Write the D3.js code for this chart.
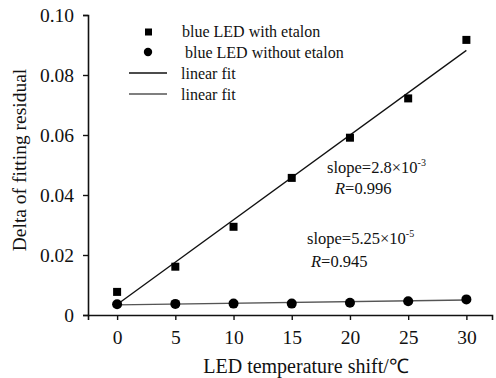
<!DOCTYPE html>
<html>
<head>
<meta charset="utf-8">
<script src="https://cdn.jsdelivr.net/npm/d3@7"></script>
<style>
  body { margin: 0; background: #fff; }
  svg text { font-family: "Liberation Serif", "Times New Roman", serif; fill: #111; }
</style>
</head>
<body>
<svg id="chart" width="496" height="378"></svg>
<script>
// temperature shift (degC)
const temps = [0, 5, 10, 15, 20, 25, 30];
// delta of fitting residual
const withEtalon = [0.0077, 0.0161, 0.0294, 0.0457, 0.0591, 0.0722, 0.0917];
const withoutEtalon = [0.0036, 0.0037, 0.0038, 0.0038, 0.0041, 0.0046, 0.0052];
// fit line end points at x = 0 and x = 30
const fitX = [0, 30];
const fitWith = [0.0035, 0.0882];
const fitWithout = [0.0034, 0.0050];
const xTicks = [0, 5, 10, 15, 20, 25, 30];
const yTicks = [0, 0.02, 0.04, 0.06, 0.08, 0.10];

let svg = d3.select('#chart');

let x = d3.scaleLinear().domain([-2.5, 32.2]).range([88, 492]);
let y = d3.scaleLinear().domain([0, 0.10]).range([315, 15]);

// axes
let xAxis = svg.append('g')
    .attr('transform', 'translate(0,315)')
    .call(d3.axisBottom(x).tickValues(xTicks).tickSizeOuter(0).tickSize(5).tickPadding(10));
let yAxis = svg.append('g')
    .attr('transform', 'translate(88,0)')
    .call(d3.axisLeft(y).tickValues(yTicks).tickSizeOuter(0).tickSize(5).tickPadding(9)
        .tickFormat(d => d === 0 ? '0' : d3.format('.2f')(d)));

[xAxis, yAxis].forEach(g => {
    g.select('.domain').attr('stroke', '#111').attr('stroke-width', 1.6);
    g.selectAll('.tick line').attr('stroke', '#111').attr('stroke-width', 1.4);
    g.selectAll('.tick text').style('font-family', '"Liberation Serif", serif')
        .style('font-size', '19.5px').attr('fill', '#111');
});

// axis titles
svg.append('text')
    .attr('x', 306).attr('y', 373)
    .attr('text-anchor', 'middle')
    .style('font-size', '20px')
    .text('LED temperature shift/℃');

svg.append('text')
    .attr('transform', 'translate(26,160) rotate(-90)')
    .attr('text-anchor', 'middle')
    .style('font-size', '19.5px')
    .text('Delta of fitting residual');

// fit lines
let line = d3.line().x(d => x(d[0])).y(d => y(d[1]));
svg.append('path')
    .datum(fitX.map((t, i) => [t, fitWith[i]]))
    .attr('d', line).attr('fill', 'none').attr('stroke', '#111').attr('stroke-width', 1.3);
svg.append('path')
    .datum(fitX.map((t, i) => [t, fitWithout[i]]))
    .attr('d', line).attr('fill', 'none').attr('stroke', '#555').attr('stroke-width', 1.3);

// markers
svg.selectAll('.sq')
    .data(temps.map((t, i) => [t, withEtalon[i]]))
    .enter().append('rect')
    .attr('x', d => x(d[0]) - 4).attr('y', d => y(d[1]) - 4)
    .attr('width', 8).attr('height', 8)
    .attr('fill', '#000');

svg.selectAll('.ci')
    .data(temps.map((t, i) => [t, withoutEtalon[i]]))
    .enter().append('circle')
    .attr('cx', d => x(d[0])).attr('cy', d => y(d[1]))
    .attr('r', 5)
    .attr('fill', '#000');

// legend
let legend = svg.append('g').style('font-size', '16px');
legend.append('rect').attr('x', 145).attr('y', 28.5).attr('width', 7).attr('height', 7).attr('fill', '#000');
legend.append('circle').attr('cx', 148).attr('cy', 52).attr('r', 4.2).attr('fill', '#000');
legend.append('line').attr('x1', 129).attr('x2', 167).attr('y1', 73).attr('y2', 73)
    .attr('stroke', '#111').attr('stroke-width', 1.3);
legend.append('line').attr('x1', 129).attr('x2', 167).attr('y1', 94).attr('y2', 94)
    .attr('stroke', '#555').attr('stroke-width', 1.3);
legend.append('text').attr('x', 182).attr('y', 37).text('blue LED with etalon');
legend.append('text').attr('x', 185).attr('y', 58).text('blue LED without etalon');
legend.append('text').attr('x', 181).attr('y', 79).text('linear fit');
legend.append('text').attr('x', 181).attr('y', 100).text('linear fit');

// annotations
function slopeText(xp, yp, base, exp) {
    let t = svg.append('text').attr('x', xp).attr('y', yp).style('font-size', '16.5px');
    t.append('tspan').text('slope=' + base + '×10');
    t.append('tspan').attr('dy', -7).style('font-size', '10px').text(exp);
}
function rText(xp, yp, val) {
    let t = svg.append('text').attr('x', xp).attr('y', yp).style('font-size', '16.5px');
    t.append('tspan').style('font-style', 'italic').text('R');
    t.append('tspan').text('=' + val);
}
slopeText(327, 173, '2.8', '-3');
rText(335, 194, '0.996');
slopeText(307, 244, '5.25', '-5');
rText(311, 267, '0.945');
</script>
</body>
</html>
